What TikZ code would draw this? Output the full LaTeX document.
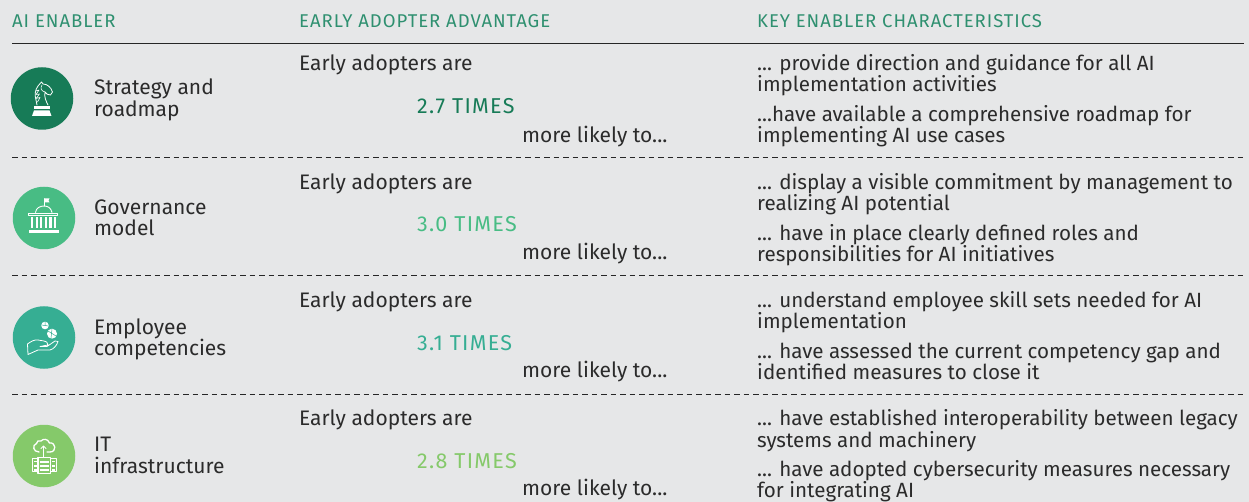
\documentclass[tikz,border=0pt]{standalone}
\usepackage{fontspec}
\setmainfont{Fira Sans}
\definecolor{bgc}{HTML}{E6E7E8}
\definecolor{cA}{HTML}{177B57}
\definecolor{cB}{HTML}{48BC84}
\definecolor{cC}{HTML}{36AE93}
\definecolor{cD}{HTML}{85C96A}
\definecolor{txt}{HTML}{2B2B2B}
\definecolor{hdr}{HTML}{2F9070}
\tikzset{
 x=1pt,y=-1pt,
 hdrtxt/.style={anchor=base west,inner sep=0,font=\fontsize{18.5}{20}\selectfont\addfontfeature{LetterSpace=5.2},text=hdr},
 body/.style={anchor=base west,inner sep=0,yshift=-0.8pt,font=\fontsize{20.6}{22}\selectfont,text=txt},
 bodyl/.style={anchor=base west,inner sep=0,yshift=-0.8pt,font=\fontsize{21}{22}\selectfont,text=txt},
 timestxt/.style={anchor=base west,inner sep=0,yshift=-0.8pt,font=\fontsize{21.5}{22}\selectfont\addfontfeature{LetterSpace=6}},
 disc/.style={circle,minimum size=62.5pt,inner sep=0},
 rowline/.style={draw=black!85,line width=0.8pt,dash pattern=on 5.5pt off 4pt},
 ic/.style={draw=white,line width=0.8pt,line join=round,line cap=round},
}
\begin{document}
\begin{tikzpicture}
\useasboundingbox[fill=bgc] (0,0) rectangle (1249,502);
\node[hdrtxt] (h1) at (12,28) {AI ENABLER};
\node[hdrtxt] (h2) at (299,28) {EARLY ADOPTER ADVANTAGE};
\node[hdrtxt] (h3) at (757,28) {KEY ENABLER CHARACTERISTICS};
\coordinate (ha) at (12,43); \coordinate (hb) at (1244,43);
\draw[black!85,line width=0.9pt] (ha) -- (hb);
\foreach \yy/\nm in {157/a,275/b,394/c}{
 \coordinate (l\nm) at (12,\yy); \coordinate (r\nm) at (1244,\yy);
 \draw[rowline] (l\nm) -- (r\nm);
}
% circles
\node[disc,fill=cA] (d1) at (42,98.5) {};
\node[disc,fill=cB] (d2) at (44,218) {};
\node[disc,fill=cC] (d3) at (44,337.5) {};
\node[disc,fill=cD] (d4) at (44,456) {};
% enabler labels
\node[bodyl] (n1a) at (94,94) {Strategy and};
\node[bodyl] (n1b) at (94,116) {roadmap};
\node[bodyl] (n2a) at (94,214) {Governance};
\node[bodyl] (n2b) at (94,235) {model};
\node[bodyl] (n3a) at (94,334) {Employee};
\node[bodyl] (n3b) at (94,355) {competencies};
\node[bodyl] (n4a) at (94,451) {IT};
\node[bodyl] (n4b) at (94,473) {infrastructure};
% advantage
\foreach \i/\a/\b/\c/\tv/\col in {1/70/113/142/2.7/cA,2/189/231/259/3.0/cB,3/307/350/377/3.1/cC,4/425/468/495/2.8/cD}{
 \node[bodyl] (e\i) at (299,\a) {Early adopters are};
 \node[timestxt,text=\col] (t\i) at (417,\b) {\tv{} TIMES};
 \node[bodyl] (m\i) at (522,\c) {more likely to...};
}
% characteristics
\node[body] (c1a) at (757,70) {... provide direction and guidance for all AI};
\node[body] (c1b) at (757,91) {implementation activities};
\node[body] (c1c) at (757,121) {...have available a comprehensive roadmap for};
\node[body] (c1d) at (757,142) {implementing AI use cases};
\node[body] (c2a) at (757,189) {... display a visible commitment by management to};
\node[body] (c2b) at (757,210) {realizing AI potential};
\node[body] (c2c) at (757,240) {... have in place clearly defined roles and};
\node[body] (c2d) at (757,261) {responsibilities for AI initiatives};
\node[body] (c3a) at (757,307) {... understand employee skill sets needed for AI};
\node[body] (c3b) at (757,328) {implementation};
\node[body] (c3c) at (757,358) {... have assessed the current competency gap and};
\node[body] (c3d) at (757,379) {identified measures to close it};
\node[body] (c4a) at (757,425) {... have established interoperability between legacy};
\node[body] (c4b) at (757,447) {systems and machinery};
\node[body] (c4c) at (757,476) {... have adopted cybersecurity measures necessary};
\node[body] (c4d) at (757,497) {for integrating AI};
% knight icon
\draw[ic] (37,105) -- (36,100) .. controls (34.5,95) and (35,90) .. (38,86) -- (41.5,82) -- (43,84) .. controls (47,84) and (51,87) .. (52.5,92) -- (50.5,95) .. controls (48,95) and (46,94) .. (45,92) .. controls (44,97) and (46,101) .. (48,105);
\draw[ic,line width=0.6pt] (35.5,91) -- (39,90) -- (36,94.5) -- (39.5,94) -- (36,98.5) -- (40,97.5) -- (37.5,102);
\draw[ic,line width=0.6pt] (42,85) .. controls (40,88) and (41,91) .. (45,92);
\fill[white] (34,106.5) rectangle (49.5,109.5);
\fill[white] (34,110.5) -- (49.5,110.5) -- (51.5,116) -- (32,116) -- cycle;
% capitol icon
\draw[ic,line width=0.7pt] (44.5,206) -- (44.5,198.5);
\fill[white] (45,198.5) -- (49.5,198.5) -- (48.5,200.5) -- (49.5,202.5) -- (45,202.5) -- cycle;
\draw[ic,line width=0.9pt] (35.5,212.5) .. controls (36,208) and (40,206) .. (44,206) .. controls (48,206) and (51,208) .. (52,212.5);
\draw[ic,line width=0.9pt] (28.5,213) rectangle (57.5,215.8);
\foreach \xx in {32,36.6,41.2,45.8,50.4,55}{\fill[white] (\xx-1.1,217) rectangle (\xx+1.1,228);}
\fill[white] (28.5,230) rectangle (58.5,232.7);
% hand icon
\draw[ic,line width=0.8pt] (27.5,344) -- (28,354.5) -- (38,350) -- (50,350) .. controls (54,349) and (57,345) .. (58,341.5) -- (55,341) -- (47,346.5) -- (40,346.5) -- (48,345) .. controls (48,342.5) and (46,341) .. (44,341) -- (38,340) .. controls (34,339.5) and (31,341.5) .. (27.5,344) -- cycle;
\node[circle,fill=white,minimum size=7.6pt,inner sep=0] (b1) at (45,325.5) {};
\node[circle,fill=white,minimum size=10pt,inner sep=0] (b2) at (52,333.7) {};
\draw[cC,line width=0.5pt] (41.5,325) -- (48.5,326) (45,322) -- (45,325.5) (48,331) -- (56,336) (52,329) -- (51,338.5);
% server icon
\draw[ic,line width=1.3pt] (39,452) .. controls (33,452) and (32,445) .. (36.5,443.5) .. controls (36.5,441) and (39,440) .. (41,441) .. controls (43,438.5) and (48,438.5) .. (49.5,443) .. controls (56,442) and (57,452) .. (50,452) -- (47,452);
\draw[ic] (43.5,457) -- (43.5,446) (41,448.5) -- (43.5,446) -- (46,448.5);
\draw[ic,line width=1.2pt] (38,457.5) rectangle (50.5,473.2);
\draw[ic,line width=0.8pt] (32.5,458.5) rectangle (38,471);
\draw[ic,line width=0.8pt] (50.5,458.5) rectangle (56.5,471);
\foreach \yy in {461.5,466,470}{
\fill[white] (40,\yy-1) rectangle (48.5,\yy+1);
\fill[white] (33.7,\yy-.8) rectangle (36.7,\yy+.8);
\fill[white] (52,\yy-.8) rectangle (55,\yy+.8);
}
\end{tikzpicture}
\end{document}
